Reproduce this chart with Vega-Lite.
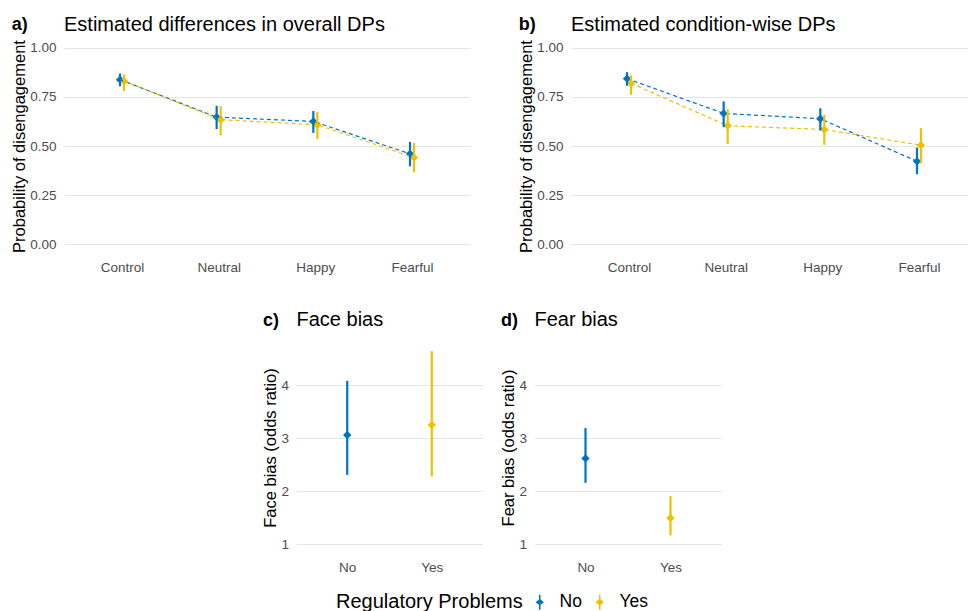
{
  "$schema": "https://vega.github.io/schema/vega-lite/v6.json",
  "padding": {"left": 11, "top": 15, "right": 0, "bottom": 0},
  "background": "white",
  "datasets": {
    "dp": [
      {"panel": "a", "condition": "Control", "ord": 1, "rp": "No", "est": 0.838, "lo": 0.804, "hi": 0.869},
      {"panel": "a", "condition": "Control", "ord": 1, "rp": "Yes", "est": 0.830, "lo": 0.780, "hi": 0.864},
      {"panel": "a", "condition": "Neutral", "ord": 2, "rp": "No", "est": 0.647, "lo": 0.586, "hi": 0.705},
      {"panel": "a", "condition": "Neutral", "ord": 2, "rp": "Yes", "est": 0.634, "lo": 0.554, "hi": 0.702},
      {"panel": "a", "condition": "Happy", "ord": 3, "rp": "No", "est": 0.625, "lo": 0.567, "hi": 0.678},
      {"panel": "a", "condition": "Happy", "ord": 3, "rp": "Yes", "est": 0.608, "lo": 0.535, "hi": 0.673},
      {"panel": "a", "condition": "Fearful", "ord": 4, "rp": "No", "est": 0.460, "lo": 0.397, "hi": 0.521},
      {"panel": "a", "condition": "Fearful", "ord": 4, "rp": "Yes", "est": 0.441, "lo": 0.366, "hi": 0.516},
      {"panel": "b", "condition": "Control", "ord": 1, "rp": "No", "est": 0.843, "lo": 0.807, "hi": 0.876},
      {"panel": "b", "condition": "Control", "ord": 1, "rp": "Yes", "est": 0.819, "lo": 0.761, "hi": 0.860},
      {"panel": "b", "condition": "Neutral", "ord": 2, "rp": "No", "est": 0.666, "lo": 0.596, "hi": 0.727},
      {"panel": "b", "condition": "Neutral", "ord": 2, "rp": "Yes", "est": 0.603, "lo": 0.511, "hi": 0.688},
      {"panel": "b", "condition": "Happy", "ord": 3, "rp": "No", "est": 0.639, "lo": 0.579, "hi": 0.692},
      {"panel": "b", "condition": "Happy", "ord": 3, "rp": "Yes", "est": 0.584, "lo": 0.506, "hi": 0.659},
      {"panel": "b", "condition": "Fearful", "ord": 4, "rp": "No", "est": 0.422, "lo": 0.356, "hi": 0.492},
      {"panel": "b", "condition": "Fearful", "ord": 4, "rp": "Yes", "est": 0.504, "lo": 0.412, "hi": 0.591}
    ],
    "bias": [
      {"panel": "c", "rp": "No", "est": 3.06, "lo": 2.31, "hi": 4.08},
      {"panel": "c", "rp": "Yes", "est": 3.25, "lo": 2.28, "hi": 4.64},
      {"panel": "d", "rp": "No", "est": 2.62, "lo": 2.16, "hi": 3.19},
      {"panel": "d", "rp": "Yes", "est": 1.50, "lo": 1.17, "hi": 1.91}
    ]
  },
  "config": {
    "font": "Liberation Sans",
    "view": {"stroke": null},
    "axis": {
      "domain": false, "ticks": false, "tickSize": 0,
      "labelColor": "#4d4d4d", "labelFontSize": 13.5,
      "titleFontSize": 16.5, "titleFontWeight": "normal", "titleColor": "#000000",
      "gridColor": "#e5e5e5", "gridWidth": 1.1
    },
    "title": {"fontSize": 20, "fontWeight": "normal", "color": "#000000", "anchor": "start"}
  },
  "vconcat": [
    {
      "spacing": 48,
      "hconcat": [
        {
          "title": {"text": "a)", "fontWeight": "bold", "fontSize": 18, "anchor": "start", "dy": 23},
          "hconcat": [
            {
              "width": 406, "height": 216,
              "title": {"text": "Estimated differences in overall DPs", "frame": "group", "anchor": "start", "offset": 3},
              "data": {"name": "dp"},
              "transform": [{"filter": "datum.panel == 'a'"}],
              "encoding": {
                "x": {"field": "condition", "type": "nominal", "sort": ["Control", "Neutral", "Happy", "Fearful"], "scale": {"type": "point", "padding": 0.6}, "axis": {"title": null, "labelAngle": 0, "labelPadding": 6}},
                "xOffset": {"field": "rp", "type": "nominal", "scale": {"domain": ["No", "Yes"], "range": [-4, 4]}},
                "color": {"field": "rp", "type": "nominal", "scale": {"domain": ["No", "Yes"], "range": ["#0073C2", "#EFC000"]},
                  "legend": {"orient": "none", "legendX": 272, "legendY": 555, "direction": "horizontal", "title": "Regulatory Problems", "titleOrient": "left", "titleLimit": 400, "titleFontSize": 20, "titleFontWeight": "normal", "titleColor": "#000000", "titlePadding": 8, "labelFontSize": 17.5, "labelColor": "#000000", "labelOffset": 11, "columnPadding": 9,
                    "symbolType": "M-0.1,-1H0.1V1H-0.1Z M0,-0.45L0.55,0L0,0.45L-0.55,0Z", "symbolSize": 225, "symbolStrokeWidth": 0}}
              },
              "layer": [
                {"mark": {"type": "point", "shape": "diamond", "filled": true, "size": 70, "opacity": 1},
                  "encoding": {"y": {"field": "est", "type": "quantitative", "title": "Probability of disengagement", "scale": {"domain": [-0.05, 1.05], "nice": false, "zero": false},
                    "axis": {"values": [0, 0.125, 0.25, 0.375, 0.5, 0.625, 0.75, 0.875, 1], "labelPadding": 8, "titlePadding": 2,
                      "labelExpr": "(datum.value * 8) % 2 == 1 ? '' : format(datum.value, '.2f')",
                      "gridColor": {"condition": {"test": "(datum.value * 8) % 2 == 1", "value": "#efefef"}, "value": "#e5e5e5"}}}}},
                {"mark": {"type": "line", "strokeDash": [4, 3], "strokeWidth": 1.2},
                  "encoding": {"y": {"field": "est", "type": "quantitative", "title": "Probability of disengagement"}, "order": {"field": "ord"}}},
                {"mark": {"type": "rule", "strokeWidth": 2.2},
                  "encoding": {"y": {"field": "lo", "type": "quantitative", "title": "Probability of disengagement"}, "y2": {"field": "hi"}}}
              ]
            }
          ]
        },
        {
          "title": {"text": "b)", "fontWeight": "bold", "fontSize": 18, "anchor": "start", "dy": 23},
          "hconcat": [
            {
              "width": 406, "height": 216,
              "title": {"text": "Estimated condition-wise DPs", "frame": "group", "anchor": "start", "offset": 3},
              "data": {"name": "dp"},
              "transform": [{"filter": "datum.panel == 'b'"}],
              "encoding": {
                "x": {"field": "condition", "type": "nominal", "sort": ["Control", "Neutral", "Happy", "Fearful"], "scale": {"type": "point", "padding": 0.6}, "axis": {"title": null, "labelAngle": 0, "labelPadding": 6}},
                "xOffset": {"field": "rp", "type": "nominal", "scale": {"domain": ["No", "Yes"], "range": [-4, 4]}},
                "color": {"field": "rp", "type": "nominal", "scale": {"domain": ["No", "Yes"], "range": ["#0073C2", "#EFC000"]}}
              },
              "layer": [
                {"mark": {"type": "point", "shape": "diamond", "filled": true, "size": 70, "opacity": 1},
                  "encoding": {"y": {"field": "est", "type": "quantitative", "title": "Probability of disengagement", "scale": {"domain": [-0.05, 1.05], "nice": false, "zero": false},
                    "axis": {"values": [0, 0.125, 0.25, 0.375, 0.5, 0.625, 0.75, 0.875, 1], "labelPadding": 8, "titlePadding": 2,
                      "labelExpr": "(datum.value * 8) % 2 == 1 ? '' : format(datum.value, '.2f')",
                      "gridColor": {"condition": {"test": "(datum.value * 8) % 2 == 1", "value": "#efefef"}, "value": "#e5e5e5"}}}}},
                {"mark": {"type": "line", "strokeDash": [4, 3], "strokeWidth": 1.2},
                  "encoding": {"y": {"field": "est", "type": "quantitative", "title": "Probability of disengagement"}, "order": {"field": "ord"}}},
                {"mark": {"type": "rule", "strokeWidth": 2.2},
                  "encoding": {"y": {"field": "lo", "type": "quantitative", "title": "Probability of disengagement"}, "y2": {"field": "hi"}}}
              ]
            }
          ]
        }
      ]
    },
    {
      "spacing": 18,
      "hconcat": [
        {
          "title": {"text": "c)", "fontWeight": "bold", "fontSize": 18, "anchor": "start", "dy": 24},
          "hconcat": [
            {
              "width": 186, "height": 213,
              "title": {"text": "Face bias", "frame": "group", "anchor": "start", "offset": 11},
              "data": {"name": "bias"},
              "transform": [{"filter": "datum.panel == 'c'"}],
              "encoding": {
                "x": {"field": "rp", "type": "nominal", "sort": ["No", "Yes"], "scale": {"type": "point", "padding": 0.6}, "axis": {"title": null, "labelAngle": 0, "labelPadding": 6}},
                "color": {"field": "rp", "type": "nominal", "scale": {"domain": ["No", "Yes"], "range": ["#0073C2", "#EFC000"]}}
              },
              "layer": [
                {"mark": {"type": "point", "shape": "diamond", "filled": true, "size": 70, "opacity": 1},
                  "encoding": {"y": {"field": "est", "type": "quantitative", "title": "Face bias (odds ratio)", "scale": {"domain": [0.82, 4.83], "nice": false, "zero": false},
                    "axis": {"values": [1, 1.5, 2, 2.5, 3, 3.5, 4, 4.5], "labelPadding": 8, "titlePadding": 2,
                      "labelExpr": "(datum.value * 2) % 2 == 1 ? '' : format(datum.value, 'd')",
                      "gridColor": {"condition": {"test": "(datum.value * 2) % 2 == 1", "value": "#efefef"}, "value": "#e5e5e5"}}}}},
                {"mark": {"type": "rule", "strokeWidth": 2.2},
                  "encoding": {"y": {"field": "lo", "type": "quantitative", "title": "Face bias (odds ratio)"}, "y2": {"field": "hi"}}}
              ]
            }
          ]
        },
        {
          "title": {"text": "d)", "fontWeight": "bold", "fontSize": 18, "anchor": "start", "dy": 24},
          "hconcat": [
            {
              "width": 187, "height": 213,
              "title": {"text": "Fear bias", "frame": "group", "anchor": "start", "offset": 11},
              "data": {"name": "bias"},
              "transform": [{"filter": "datum.panel == 'd'"}],
              "encoding": {
                "x": {"field": "rp", "type": "nominal", "sort": ["No", "Yes"], "scale": {"type": "point", "padding": 0.6}, "axis": {"title": null, "labelAngle": 0, "labelPadding": 6}},
                "color": {"field": "rp", "type": "nominal", "scale": {"domain": ["No", "Yes"], "range": ["#0073C2", "#EFC000"]}}
              },
              "layer": [
                {"mark": {"type": "point", "shape": "diamond", "filled": true, "size": 70, "opacity": 1},
                  "encoding": {"y": {"field": "est", "type": "quantitative", "title": "Fear bias (odds ratio)", "scale": {"domain": [0.82, 4.83], "nice": false, "zero": false},
                    "axis": {"values": [1, 1.5, 2, 2.5, 3, 3.5, 4, 4.5], "labelPadding": 8, "titlePadding": 2,
                      "labelExpr": "(datum.value * 2) % 2 == 1 ? '' : format(datum.value, 'd')",
                      "gridColor": {"condition": {"test": "(datum.value * 2) % 2 == 1", "value": "#efefef"}, "value": "#e5e5e5"}}}}},
                {"mark": {"type": "rule", "strokeWidth": 2.2},
                  "encoding": {"y": {"field": "lo", "type": "quantitative", "title": "Fear bias (odds ratio)"}, "y2": {"field": "hi"}}}
              ]
            }
          ]
        },
        {
          "width": 5, "height": 213,
          "data": {"values": []},
          "mark": {"type": "point"},
          "encoding": {}
        }
      ]
    }
  ],
  "spacing": 36,
  "center": true
}
